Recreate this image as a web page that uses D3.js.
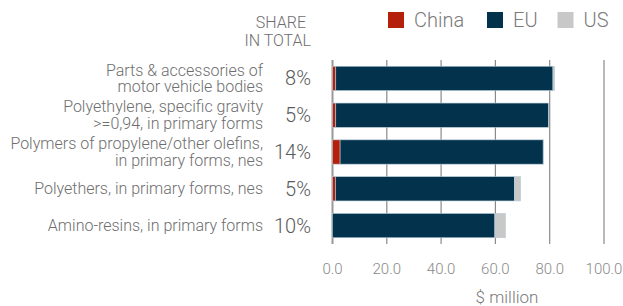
<!DOCTYPE html>
<html>
<head>
<meta charset="utf-8">
<script src="https://cdn.jsdelivr.net/npm/d3@7"></script>
<style>
  body { margin: 0; background: #fff; }
  text { font-family: Roboto, "Liberation Sans", Arial, sans-serif; font-weight: 300; }
</style>
</head>
<body>
<script>
var categories = [
  ['Parts & accessories of', 'motor vehicle bodies'],
  ['Polyethylene, specific gravity', '>=0,94, in primary forms'],
  ['Polymers of propylene/other olefins,', 'in primary forms, nes'],
  ['Polyethers, in primary forms, nes'],
  ['Amino-resins, in primary forms']
];
var shares = ['8%', '5%', '14%', '5%', '10%'];
var china = [1.2, 1.2, 2.8, 1.1, 0];
var eu = [80.0, 78.3, 74.8, 65.9, 59.8];
var us = [0.6, 0, 0.2, 2.3, 3.9];
var series = ['China', 'EU', 'US'];
var colors = ['#b5200d', '#03324d', '#c8c8c8'];
var ticks = [0, 20, 40, 60, 80, 100];

var svg = d3.select('body').append('svg')
    .attr('width', 623)
    .attr('height', 306);

var x = d3.scaleLinear().domain([0, 100]).range([332.5, 604]);
var y = d3.scaleBand().domain(d3.range(5)).range([60, 244]).paddingInner(0.34).paddingOuter(0.17);

// gridlines
svg.selectAll('.grid')
    .data(ticks)
    .enter().append('line')
    .attr('x1', function (d) { return x(d); })
    .attr('x2', function (d) { return x(d); })
    .attr('y1', 60)
    .attr('y2', 244)
    .attr('stroke', function (d) { return d === 0 ? '#999' : '#8a8a8a'; })
    .attr('stroke-width', function (d) { return d === 0 ? 2 : 1.2; });

// stacked bars
var rows = categories.map(function (c, i) {
  return { i: i, China: china[i], EU: eu[i], US: us[i] };
});
var stack = d3.stack().keys(series)(rows);

svg.selectAll('.layer')
    .data(stack)
    .enter().append('g')
    .attr('fill', function (d, i) { return colors[i]; })
    .selectAll('rect')
    .data(function (d) { return d; })
    .enter().append('rect')
    .attr('x', function (d) { return x(d[0]); })
    .attr('y', function (d) { return y(d.data.i); })
    .attr('width', function (d) { return Math.max(0, x(d[1]) - x(d[0])); })
    .attr('height', y.bandwidth())
    .attr('stroke', '#b8ccd6')
    .attr('stroke-width', function (d) { return d[1] - d[0] > 0 ? 0.6 : 0; });

// category labels
var lab = svg.selectAll('.cat')
    .data(categories)
    .enter().append('text')
    .attr('text-anchor', 'end')
    .attr('font-size', 16)
    .attr('fill', '#6e6e6e')
    .attr('x', 263)
    .attr('y', function (d, i) { return y(i) + y.bandwidth() / 2; });
lab.selectAll('tspan')
    .data(function (d) { return d.map(function (t, j) { return { t: t, j: j, n: d.length }; }); })
    .enter().append('tspan')
    .attr('x', 263)
    .attr('dy', function (d) { return d.j === 0 ? ((-(d.n - 1) * 8.4) + 5.5) + 'px' : '16.8px'; })
    .text(function (d) { return d.t; });

// share labels
svg.selectAll('.share')
    .data(shares)
    .enter().append('text')
    .attr('text-anchor', 'end')
    .attr('font-size', 20)
    .attr('font-weight', 400)
    .attr('fill', '#5a5a5a')
    .attr('x', 311)
    .attr('y', function (d, i) { return y(i) + y.bandwidth() / 2 + 7; })
    .text(function (d) { return d; });

svg.append('text')
    .attr('text-anchor', 'end').attr('font-size', 16).attr('fill', '#6e6e6e')
    .attr('x', 306).attr('y', 28).text('SHARE');
svg.append('text')
    .attr('text-anchor', 'end').attr('font-size', 16).attr('fill', '#6e6e6e')
    .attr('x', 311).attr('y', 46).text('IN TOTAL');

// tick labels
svg.selectAll('.tick')
    .data(ticks)
    .enter().append('text')
    .attr('text-anchor', 'middle')
    .attr('font-size', 15)
    .attr('fill', '#8a8a8a')
    .attr('x', function (d) { return x(d); })
    .attr('y', 274)
    .text(function (d) { return d3.format('.1f')(d); });

svg.append('text')
    .attr('text-anchor', 'middle').attr('font-size', 17).attr('fill', '#7a7a7a')
    .attr('x', 507).attr('y', 303).text('$ million');

// legend
var legX = [388, 487, 557.5];
var leg = svg.selectAll('.leg')
    .data(series)
    .enter().append('g')
    .attr('transform', function (d, i) { return 'translate(' + legX[i] + ',12)'; });
leg.append('rect')
    .attr('width', 16).attr('height', 16)
    .attr('fill', function (d, i) { return colors[i]; });
leg.append('text')
    .attr('x', 26).attr('y', 15)
    .attr('font-size', 20).attr('fill', '#7a7a7a')
    .text(function (d) { return d; });
</script>
</body>
</html>
